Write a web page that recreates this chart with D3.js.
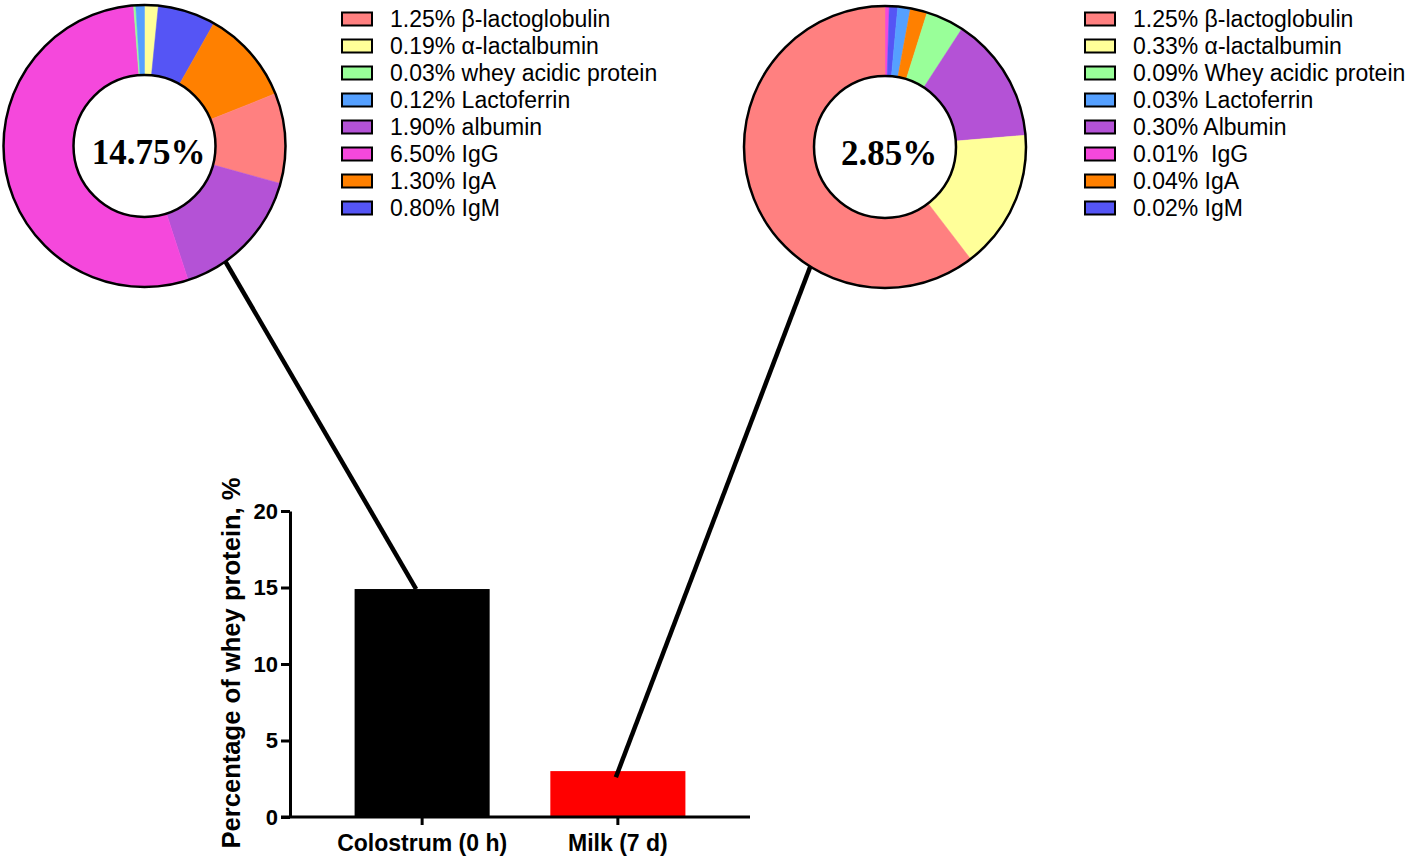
<!DOCTYPE html>
<html><head><meta charset="utf-8">
<script src="https://cdn.jsdelivr.net/npm/d3@7"></script>
<style>body{margin:0;background:#fff;} text{white-space:pre;}</style>
</head><body>
<svg id="chart" width="1418" height="859"></svg>
<script>
// ---------- DATA ----------
const componentColors = ["#FF8080", "#FFFF99", "#99FF99", "#55A0FF", "#B452D6", "#F548DC", "#FF8000", "#5555F5"];
const colostrumNames = ["β-lactoglobulin", "α-lactalbumin", "whey acidic protein", "Lactoferrin", "albumin", "IgG", "IgA", "IgM"];
const colostrumValues = [1.25, 0.19, 0.03, 0.12, 1.90, 6.50, 1.30, 0.80];
const colostrumSliceOrder = [1, 7, 6, 0, 4, 5, 2, 3];
const colostrumTotal = "14.75%";
const milkNames = ["β-lactoglobulin", "α-lactalbumin", "Whey acidic protein", "Lactoferrin", "Albumin", " IgG", "IgA", "IgM"];
const milkValues = [1.25, 0.33, 0.09, 0.03, 0.30, 0.01, 0.04, 0.02];
const milkSliceOrder = [5, 7, 3, 6, 2, 4, 1, 0];
const milkTotal = "2.85%";
const barCategories = ["Colostrum (0 h)", "Milk (7 d)"];
const barValues = [14.9, 3.0];
const barColors = ["#000000", "#FF0000"];
const yTicks = [0, 5, 10, 15, 20];
const yLabel = "Percentage of whey protein, %";

// ---------- DRAW ----------
const svg = d3.select("#chart");

// Bar chart
const x = d3.scaleBand().domain(barCategories).range([290, 750]).paddingInner(0.31).paddingOuter(0.33);
const y = d3.scaleLinear().domain([0, 20]).range([817, 511]);

const bars = svg.append("g");
bars.selectAll("rect").data(barCategories).join("rect")
  .attr("x", d => x(d)).attr("width", x.bandwidth())
  .attr("y", (d, i) => y(barValues[i])).attr("height", (d, i) => y(0) - y(barValues[i]))
  .attr("fill", (d, i) => barColors[i]);

const yAxis = svg.append("g").attr("transform", "translate(290,0)")
  .call(d3.axisLeft(y).tickValues(yTicks).tickSize(9).tickPadding(3).tickSizeOuter(0));
yAxis.selectAll("text").attr("font-family", "Liberation Sans, Arial, sans-serif").attr("font-weight", "bold").attr("font-size", 22).attr("fill", "#000");
yAxis.selectAll("line,path").attr("stroke", "#000").attr("stroke-width", 3);

const xAxis = svg.append("g").attr("transform", `translate(0,${y(0)})`)
  .call(d3.axisBottom(x).tickSize(8).tickPadding(10).tickSizeOuter(0));
xAxis.select("path").attr("d", `M281,0H750`);
xAxis.selectAll("text").attr("font-family", "Liberation Sans, Arial, sans-serif").attr("font-weight", "bold").attr("font-size", 23).attr("fill", "#000");
xAxis.selectAll("line,path").attr("stroke", "#000").attr("stroke-width", 3);

svg.append("text").attr("transform", "translate(240,663) rotate(-90)")
  .attr("text-anchor", "middle").attr("font-family", "Liberation Sans, Arial, sans-serif")
  .attr("font-weight", "bold").attr("font-size", 25.6).text(yLabel);

// Donuts
const outerR = 141, innerR = 71;
function donut(cx, cy, values, order, total) {
  const g = svg.append("g").attr("transform", `translate(${cx},${cy})`);
  const pie = d3.pie().sort(null).value(i => values[i]).startAngle(0).endAngle(2 * Math.PI);
  const arc = d3.arc().innerRadius(innerR).outerRadius(outerR);
  g.selectAll("path").data(pie(order)).join("path")
    .attr("d", arc).attr("fill", d => componentColors[d.data])
    .attr("stroke", d => componentColors[d.data]).attr("stroke-width", 0.5);
  g.append("circle").attr("r", outerR).attr("fill", "none").attr("stroke", "#000").attr("stroke-width", 2.5);
  g.append("circle").attr("r", innerR).attr("fill", "#fff").attr("stroke", "#000").attr("stroke-width", 2.5);
  g.append("text").attr("x", 4).attr("y", 18).attr("text-anchor", "middle")
    .attr("font-family", "Liberation Serif, Times New Roman, serif").attr("font-weight", "bold")
    .attr("font-size", 35).text(total);
  return g;
}
const leftC = [144.5, 146], rightC = [885, 147];
donut(leftC[0], leftC[1], colostrumValues, colostrumSliceOrder, colostrumTotal);
donut(rightC[0], rightC[1], milkValues, milkSliceOrder, milkTotal);

// Legends
function legend(x0, names, values) {
  const g = svg.append("g");
  const rows = g.selectAll("g").data(names).join("g")
    .attr("transform", (d, i) => `translate(${x0},${19 + i * 27})`);
  rows.append("rect").attr("x", 1).attr("y", -6.5).attr("width", 30).attr("height", 13)
    .attr("fill", (d, i) => componentColors[i]).attr("stroke", "#000").attr("stroke-width", 2);
  rows.append("text").attr("x", 49).attr("y", 8)
    .attr("font-family", "Liberation Sans, Arial, sans-serif").attr("font-size", 23)
    .text((d, i) => d3.format(".2f")(values[i]) + "% " + d);
}
legend(341, colostrumNames, colostrumValues);
legend(1084, milkNames, milkValues);

// Connector lines
function connector(c, angleDeg, catIdx, val, dx) {
  const a = angleDeg * Math.PI / 180;
  const x1 = c[0] + outerR * Math.sin(a), y1 = c[1] - outerR * Math.cos(a);
  const x2 = x(barCategories[catIdx]) + x.bandwidth() / 2 + dx, y2 = y(val);
  svg.append("line").attr("x1", x1).attr("y1", y1).attr("x2", x2).attr("y2", y2)
    .attr("stroke", "#000").attr("stroke-width", 4.5);
}
connector(leftC, 145, 0, barValues[0], -6);
connector(rightC, 212, 1, 2.6, -2);
</script>
</body></html>
